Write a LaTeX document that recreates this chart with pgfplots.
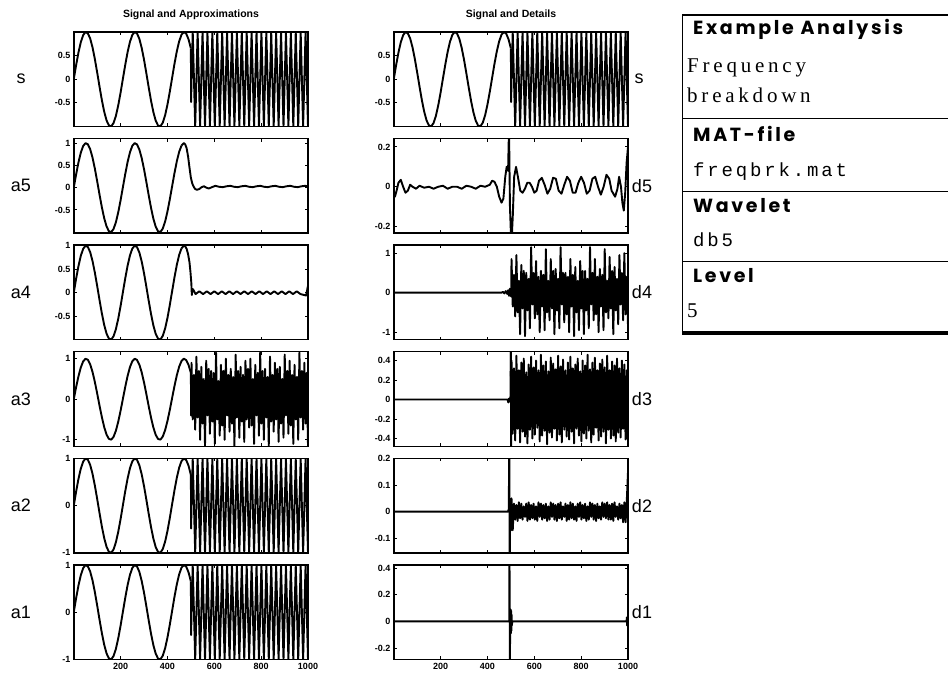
\documentclass[border=0pt]{standalone}
\usepackage{pgfplots}
\pgfplotsset{compat=1.18}
\usepackage{pgfplotstable}
\usepackage{fontspec}
\setmainfont{Liberation Sans}
\newfontfamily\boxsans[LetterSpace=14]{Poppins}
\newfontfamily\boxserif[LetterSpace=18]{Liberation Serif}
\newfontfamily\boxmono[LetterSpace=15]{Liberation Mono}

\newcommand\ticklabelfont{\fontsize{9}{10}\selectfont\bfseries}
\newcommand\rowlabelfont{\fontsize{18}{20}\selectfont}
\newcommand\titlefont{\fontsize{10.5}{12}\selectfont\bfseries}

% low-frequency part of the signal, t = 1 ... 500
\pgfplotstableread{
t s
1 0.030
10 0.2955
20 0.5646
30 0.7833
40 0.9320
50 0.9975
60 0.9738
70 0.8632
80 0.6755
90 0.4274
100 0.1411
110 -0.1577
120 -0.4425
130 -0.6878
140 -0.8716
150 -0.9775
160 -0.9962
170 -0.9258
180 -0.7728
190 -0.5507
200 -0.2794
210 0.0168
220 0.3115
230 0.5784
240 0.7937
250 0.9380
260 0.9985
270 0.9699
280 0.8546
290 0.6630
300 0.4121
310 0.1245
320 -0.1743
330 -0.4575
340 -0.6999
350 -0.8797
360 -0.9809
370 -0.9946
380 -0.9193
390 -0.7620
400 -0.5366
410 -0.2632
420 0.0336
430 0.3275
440 0.5921
450 0.8038
460 0.9437
470 0.9993
480 0.9657
490 0.8457
500 0.6503
}\lowfreq

% high-frequency part, t = 500 ... 1000
\pgfplotstableread{
t s a3 d4 d3 d2
500 0.650 0.65 0.05 0.49 0.05
501 -0.484 -0.40 -0.10 -0.50 -0.07
502.7 0 0.9 0.85 0.4 0.05
507.9 1 -0.5 -0.35 -0.35 -0.07
513.1 0 0.6 0.45 0.32 0.03
518.4 -1 -0.75 -0.6 -0.42 -0.03
523.6 0 1.05 0.95 0.45 0.025
528.8 1 -0.45 -0.5 -0.3 -0.035
534.1 0 0.7 0.3 0.3 0.035
539.3 -1 -1.0 -1.05 -0.44 -0.025
544.5 0 0.8 0.7 0.38 0.03
549.8 1 -0.6 -0.4 -0.33 -0.03
555.0 0 0.5 0.55 0.42 0.02
560.3 -1 -1.15 -1.1 -0.38 -0.02
565.5 0 0.95 0.5 0.28 0.03
570.7 1 -0.4 -0.45 -0.45 -0.035
576.0 0 0.75 0.35 0.36 0.035
581.2 -1 -0.85 -0.9 -0.31 -0.03
586.4 0 0.7 1.15 0.44 0.025
591.7 1 -0.55 -0.3 -0.4 -0.025
596.9 0 0.65 0.5 0.33 0.03
602.1 -1 -1.1 -0.65 -0.36 -0.03
607.4 0 1.15 0.8 0.4 0.02
612.6 1 -0.5 -0.55 -0.29 -0.035
617.8 0 0.45 0.4 0.3 0.035
623.1 -1 -0.9 -1.0 -0.43 -0.02
628.3 0 0.85 0.55 0.46 0.03
633.6 1 -0.65 -0.35 -0.37 -0.03
638.8 0 0.7 0.45 0.35 0.025
644.0 -1 -1.0 -0.95 -0.32 -0.025
649.3 0 1.0 1.1 0.39 0.03
654.5 1 -0.4 -0.5 -0.46 -0.035
659.7 0 0.6 0.3 0.29 0.02
665.0 -1 -0.8 -0.7 -0.34 -0.03
670.2 0 0.75 0.85 0.43 0.035
675.4 1 -0.6 -0.4 -0.39 -0.02
680.7 0 0.55 0.55 0.37 0.03
685.9 -1 -1.15 -1.05 -0.3 -0.03
691.2 0 1.1 0.6 0.31 0.025
696.4 1 -0.45 -0.45 -0.42 -0.035
701.6 0 0.7 0.35 0.45 0.03
706.9 -1 -0.95 -0.9 -0.36 -0.025
712.1 0 0.8 1.15 0.34 0.035
717.3 1 -0.55 -0.3 -0.44 -0.03
722.6 0 0.6 0.5 0.41 0.02
727.8 -1 -1.05 -0.75 -0.31 -0.02
733.0 0 0.95 0.5 0.3 0.03
738.3 1 -0.5 -0.55 -0.38 -0.035
743.5 0 0.75 0.4 0.38 0.025
748.7 -1 -0.7 -1.0 -0.41 -0.03
754.0 0 1.0 0.85 0.44 0.035
759.2 1 -0.65 -0.35 -0.33 -0.025
764.5 0 0.5 0.45 0.32 0.03
769.7 -1 -1.1 -1.1 -0.45 -0.03
774.9 0 0.85 0.65 0.36 0.02
780.2 1 -0.4 -0.5 -0.3 -0.035
785.4 0 0.65 0.3 0.42 0.03
790.6 -1 -0.9 -0.95 -0.37 -0.02
795.9 0 1.15 0.8 0.29 0.035
801.1 1 -0.6 -0.4 -0.43 -0.03
806.3 0 0.7 0.55 0.4 0.025
811.6 -1 -1.0 -1.05 -0.35 -0.025
816.8 0 0.75 0.55 0.35 0.03
822.1 1 -0.45 -0.45 -0.4 -0.035
827.3 0 0.55 0.35 0.46 0.02
832.5 -1 -1.15 -0.9 -0.32 -0.03
837.8 0 1.05 1.15 0.31 0.035
843.0 1 -0.55 -0.3 -0.44 -0.02
848.2 0 0.6 0.5 0.38 0.03
853.5 -1 -0.8 -0.7 -0.36 -0.03
858.7 0 0.9 0.85 0.43 0.025
863.9 1 -0.5 -0.55 -0.29 -0.035
869.2 0 0.75 0.4 0.3 0.03
874.4 -1 -1.05 -1.0 -0.42 -0.025
879.6 0 0.8 0.6 0.37 0.02
884.9 1 -0.6 -0.35 -0.38 -0.03
890.1 0 0.5 0.45 0.41 0.035
895.4 -1 -0.95 -0.95 -0.33 -0.02
900.6 0 1.1 1.1 0.33 0.03
905.8 1 -0.4 -0.5 -0.45 -0.025
911.1 0 0.7 0.3 0.45 0.035
916.3 -1 -0.85 -0.65 -0.31 -0.03
921.5 0 0.95 0.9 0.3 0.025
926.8 1 -0.65 -0.4 -0.4 -0.03
932.0 0 0.6 0.55 0.39 0.03
937.2 -1 -1.1 -1.05 -0.37 -0.035
942.5 0 0.85 0.65 0.35 0.035
947.7 1 -0.5 -0.45 -0.43 -0.02
953.0 0 0.55 0.35 0.42 0.02
958.2 -1 -1.0 -0.8 -0.34 -0.03
963.4 0 1.15 0.95 0.32 0.03
968.7 1 -0.45 -0.3 -0.39 -0.025
973.9 0 0.7 0.5 0.4 0.025
979.1 -1 -0.75 -0.7 -0.3 -0.04
984.4 0 0.9 1.0 0.36 0.035
989.6 1 -0.6 -0.55 -0.41 -0.04
994.8 0 0.65 0.4 0.3 0.04
1000.0 -1 -1.15 -0.85 -0.44 0.15
}\highfreq

\pgfplotsset{
  wavelet panel/.style={
    scale only axis, width=234pt, height=94.5pt,
    anchor=north west,
    xmin=1, xmax=1000,
    xtick={200,400,600,800,1000},
    xticklabels={},
    tick align=inside,
    xtick pos=both, ytick pos=both,
    major tick length=3pt,
    axis line style={line width=1.4pt},
    every tick/.append style={line width=1pt, black},
    tick label style={font=\ticklabelfont},
    /pgf/number format/assume math mode=true,
    /pgf/number format/1000 sep={},
    cycle list={{black}},
    every axis plot/.append style={line width=1.9pt, mark=none, line join=round},
  },
  bottom panel/.style={xticklabels={200,400,600,800,1000}},
}

\begin{document}
\begin{tikzpicture}[x=1pt,y=1pt]
\useasboundingbox (0,0) rectangle (948,680);

% column titles
\node[font=\titlefont] at (191,665) {Signal and Approximations};
\node[font=\titlefont] at (511,665) {Signal and Details};

% ---------------- left column: signal and approximations ----------------
\begin{axis}[wavelet panel, at={(74pt,648pt)}, ymin=-1, ymax=1, ytick={-0.5,0,0.5}]
\addplot table[x=t,y=s]{\lowfreq};
\addplot table[x=t,y=s]{\highfreq};
\end{axis}

\begin{axis}[wavelet panel, at={(74pt,541.4pt)}, ymin=-1.02, ymax=1.1, ytick={-0.5,0,0.5,1}]
\addplot+[restrict x to domain=1:460] table[x=t,y=s]{\lowfreq};
\addplot coordinates {(460,0.9437)(470,0.9993)(476,0.97)(482,0.88)(488,0.7)(494,0.45)(500,0.22)(506,0.09)(512,0.02)(518,-0.03)(526,-0.05)(536,-0.03)(546,0.01)(556,0.03)(566,0.0)(576,-0.02)(590,0.01)(604,0.04)(620,0.02)(636,0.01)(652,0.03)(668,0.04)(684,0.02)(700,0.01)(716,0.03)(732,0.04)(748,0.02)(764,0.01)(780,0.03)(796,0.04)(812,0.02)(828,0.01)(844,0.03)(860,0.04)(876,0.02)(892,0.01)(908,0.03)(924,0.04)(940,0.02)(956,0.01)(972,0.03)(988,0.04)(1000,0.03)};
\end{axis}

\begin{axis}[wavelet panel, at={(74pt,434.8pt)}, ymin=-1, ymax=1.01, ytick={-0.5,0,0.5,1}]
\addplot+[restrict x to domain=1:460] table[x=t,y=s]{\lowfreq};
\addplot coordinates {(460,0.9437)(470,0.9993)(476,0.985)(482,0.93)(488,0.82)(494,0.65)(498,0.45)(502,0.2)(504,-0.05)(507,0.08)(512,0.05)(520,-0.03)(536,0.03)(552,-0.03)(568,0.03)(584,-0.03)(600,0.03)(616,-0.03)(632,0.03)(648,-0.03)(664,0.03)(680,-0.03)(696,0.03)(712,-0.03)(728,0.03)(744,-0.03)(760,0.03)(776,-0.03)(792,0.03)(808,-0.03)(824,0.03)(840,-0.03)(856,0.03)(872,-0.03)(888,0.03)(904,-0.03)(920,0.03)(936,-0.03)(952,0.03)(968,-0.03)(984,-0.05)(992,-0.06)(1000,0.15)};
\end{axis}

\begin{axis}[wavelet panel, at={(74pt,328.2pt)}, ymin=-1.16, ymax=1.17, ytick={-1,0,1}]
\addplot table[x=t,y=s]{\lowfreq};
\addplot table[x=t,y=a3]{\highfreq};
\end{axis}

\begin{axis}[wavelet panel, at={(74pt,221.6pt)}, ymin=-1, ymax=1, ytick={-1,0,1}]
\addplot table[x=t,y=s]{\lowfreq};
\addplot table[x=t,y=s]{\highfreq};
\end{axis}

\begin{axis}[wavelet panel, bottom panel, at={(74pt,115pt)}, ymin=-1, ymax=1, ytick={-1,0,1}]
\addplot table[x=t,y=s]{\lowfreq};
\addplot table[x=t,y=s]{\highfreq};
\end{axis}

% ---------------- right column: signal and details ----------------
\begin{axis}[wavelet panel, at={(394pt,648pt)}, ymin=-1, ymax=1, ytick={-0.5,0,0.5}]
\addplot table[x=t,y=s]{\lowfreq};
\addplot table[x=t,y=s]{\highfreq};
\end{axis}

\begin{axis}[wavelet panel, at={(394pt,541.4pt)}, ymin=-0.233, ymax=0.242, ytick={-0.2,0,0.2}]
\addplot coordinates {(1,-0.03)(5,-0.05)(12,-0.02)(20,0.02)(30,0.035)(40,0.0)(50,-0.03)(60,-0.02)(70,0.01)(80,0.0)(95,-0.01)(110,0.005)(130,-0.005)(150,0.0)(170,-0.01)(190,0.0)(210,0.005)(230,-0.01)(250,0.0)(270,0.0)(290,-0.01)(310,0.005)(330,0.0)(350,-0.01)(370,0.005)(390,0.0)(410,0.01)(420,0.03)(430,0.025)(440,0.0)(450,-0.05)(460,-0.08)(468,-0.06)(476,0.05)(482,0.1)(488,0.08)(492,0.3)(496,-0.1)(502,-0.3)(508,-0.15)(514,0.05)(522,0.1)(530,0.05)(540,-0.02)(550,-0.03)(560,-0.01)(570,0.02)(580,0.02)(590,0.0)(600,-0.03)(610,-0.02)(620,0.03)(632,0.045)(644,0.01)(656,-0.035)(668,-0.01)(680,0.045)(692,0.04)(704,-0.02)(716,-0.035)(728,0.01)(740,0.05)(752,0.03)(764,-0.03)(776,-0.03)(788,0.02)(800,0.05)(812,0.02)(824,-0.035)(836,-0.02)(848,0.04)(860,0.05)(872,0.0)(884,-0.04)(896,0.0)(908,0.06)(920,0.04)(930,-0.02)(945,-0.05)(955,-0.01)(962,0.05)(970,0.0)(976,-0.08)(982,-0.12)(988,-0.03)(994,0.12)(1000,0.2)};
\end{axis}

\begin{axis}[wavelet panel, at={(394pt,434.8pt)}, ymin=-1.19, ymax=1.2, ytick={-1,0,1}]
\addplot coordinates {(1,0)(460,0)(466,0.02)(472,-0.02)(478,0.04)(484,-0.03)(488,0.06)(492,-0.08)(496,0.1)(500,0.05)};
\addplot table[x=t,y=d4]{\highfreq};
\end{axis}

\begin{axis}[wavelet panel, at={(394pt,328.2pt)}, ymin=-0.48, ymax=0.49, ytick={-0.4,-0.2,0,0.2,0.4}]
\addplot coordinates {(1,0)(486,0)(489,-0.03)(492,0.01)(495,-0.02)(498,0)(500,0.49)};
\addplot table[x=t,y=d3]{\highfreq};
\end{axis}

\begin{axis}[wavelet panel, at={(394pt,221.6pt)}, ymin=-0.155, ymax=0.2, ytick={-0.1,0,0.1,0.2}]
\addplot coordinates {(1,0)(488,0)(491,0.01)(493,0.25)(495,-0.2)(497,0.04)(500,0.05)};
\addplot table[x=t,y=d2]{\highfreq};
\end{axis}

\begin{axis}[wavelet panel, bottom panel, at={(394pt,115pt)}, ymin=-0.286, ymax=0.423, ytick={-0.2,0,0.2,0.4}]
\addplot coordinates {(1,0)(490,0)(493,0)(494,0.5)(496,-0.35)(497,0.09)(498,-0.08)(499,0.09)(500,-0.09)(501,0.08)(502,-0.07)(503,0.05)(504,-0.03)(506,0)(994,0)(995,0.03)(996,-0.03)(997,0.03)(998,-0.03)(999,0.02)(1000,0)};
\end{axis}

% row names
\begin{scope}[every node/.style={font=\rowlabelfont}]
\node at (21,600.75) {s};
\node at (21,494.15) {a5};
\node at (21,387.55) {a4};
\node at (21,280.95) {a3};
\node at (21,174.35) {a2};
\node at (21,67.75) {a1};
\node at (639,600.75) {s};
\node at (642,494.15) {d5};
\node at (642,387.55) {d4};
\node at (642,280.95) {d3};
\node at (642,174.35) {d2};
\node at (642,67.75) {d1};
\end{scope}

% information box
\draw[line width=1.4pt] (682,665) -- (952,665);
\draw[line width=1.6pt] (682.5,665) -- (682.5,344.5);
\draw[line width=1pt] (682,561) -- (952,561);
\draw[line width=1pt] (682,488.3) -- (952,488.3);
\draw[line width=1pt] (682,418.3) -- (952,418.3);
\draw[line width=4pt] (681.8,346.5) -- (952,346.5);

\begin{scope}[every node/.style={anchor=base west, inner sep=0pt}]
\node[font=\boxsans\fontsize{19}{22}\selectfont\bfseries] at (693,645) {Example Analysis};
\node[font=\boxserif\fontsize{21}{24}\selectfont] at (687,607) {Frequency};
\node[font=\boxserif\fontsize{21}{24}\selectfont] at (687,577) {breakdown};
\node[font=\boxsans\fontsize{19}{22}\selectfont\bfseries] at (693,538) {MAT-file};
\node[font=\boxmono\fontsize{19}{22}\selectfont] at (693,503) {freqbrk.mat};
\node[font=\boxsans\fontsize{19}{22}\selectfont\bfseries] at (693,467) {Wavelet};
\node[font=\boxmono\fontsize{19}{22}\selectfont] at (693,433) {db5};
\node[font=\boxsans\fontsize{19}{22}\selectfont\bfseries] at (693,397) {Level};
\node[font=\boxserif\fontsize{21}{24}\selectfont] at (687,362) {5};
\end{scope}
\end{tikzpicture}
\end{document}
